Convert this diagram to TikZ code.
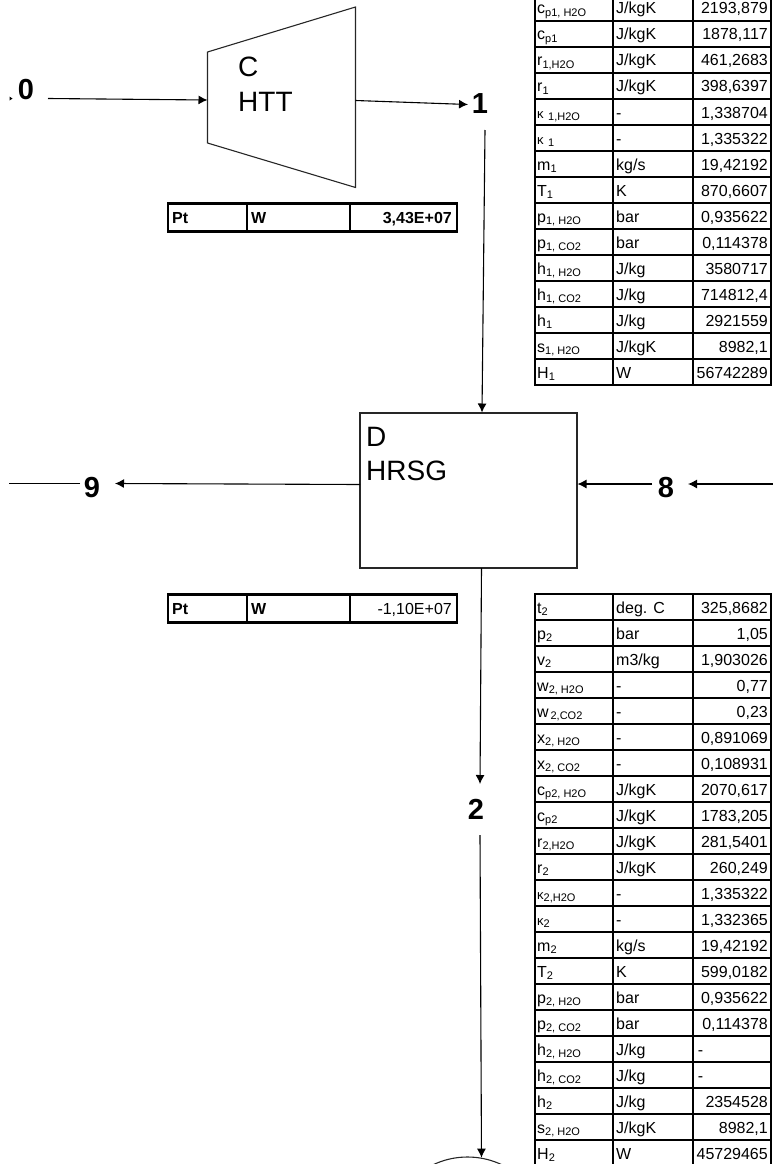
\documentclass[tikz,border=0pt]{standalone}
\usepackage{fontspec}
\setmainfont{Liberation Sans}
\usetikzlibrary{arrows.meta}

\newcommand{\subs}[1]{\textsubscript{\fontsize{11}{11}\selectfont #1}}
\newcommand{\kap}{{\fontsize{13}{13}\selectfont κ}}

\tikzset{
  >={Latex[length=9pt,width=9pt]},
  part/.style={draw=black!85, line width=1.1pt},
  flow/.style={->, line width=1.1pt},
  wire/.style={line width=1.1pt},
  partname/.style={anchor=base west, inner sep=0pt, font=\fontsize{28}{28}\selectfont},
  statenum/.style={inner sep=0pt, minimum width=24pt, minimum height=52pt, font=\fontsize{29}{29}\selectfont\bfseries},
  cellname/.style={anchor=base west, inner sep=0pt, font=\fontsize{16}{16}\selectfont},
  cellunit/.style={anchor=base west, inner sep=0pt, font=\fontsize{16}{16}\selectfont},
  cellval/.style={anchor=base east, inner sep=0pt, font=\fontsize{16}{16}\selectfont},
  gridline/.style={line width=1.5pt},
  gridframe/.style={line width=2.2pt},
  powerframe/.style={line width=2.8pt},
}

% name, y of first row top, number of rows, rows
\newcommand{\statetable}[4]{
  \foreach \sym/\unit/\val [count=\i] in {#4} {
    \pgfmathsetmacro{\rowbase}{#2+26*\i-7}
    \node[cellname] (#1n\i) at (537,\rowbase) {\sym};
    \node[cellunit] (#1u\i) at (616,\rowbase) {\unit};
    \node[cellval] (#1v\i) at (768,\rowbase) {\val};
    \pgfmathsetmacro{\rowline}{#2+26*\i}
    \draw[gridline] (535,\rowline) -- (771,\rowline);
  }
  \draw[gridline] (613,#2) -- (613,#2+26*#3);
  \draw[gridline] (693,#2) -- (693,#2+26*#3);
  \draw[gridframe] (535,#2) rectangle (771,#2+26*#3);
}

% name, y of top, value
\newcommand{\powertable}[3]{
  \node[cellname, font=\fontsize{16}{16}\selectfont\bfseries] (#1n) at (172,#2+20) {Pt};
  \node[cellunit, font=\fontsize{16}{16}\selectfont\bfseries] (#1u) at (251,#2+20) {W};
  \node[cellval] (#1v) at (452,#2+20) {#3};
  \draw[line width=1.5pt] (247,#2) -- (247,#2+28) (350,#2) -- (350,#2+28);
  \draw[powerframe] (168,#2) rectangle (457,#2+28);
}

\begin{document}
\begin{tikzpicture}[x=1pt,y=-1pt]
\useasboundingbox (0,0) rectangle (773,1164);
\clip (0,0) rectangle (773,1164);

% Define corners of the turbine
\coordinate (t1) at (207.5,52);
\coordinate (t2) at (355.5,7);
\coordinate (t3) at (355.5,187.5);
\coordinate (t4) at (207.5,143);

% Draw turbine
\draw[part] (t1) -- (t2) -- (t3) -- (t4) -- cycle;
\node[partname] (cname) at (238,76) {C};
\node[partname] (httname) at (238,111) {HTT};

% Draw heat recovery boiler
\node[part, inner sep=0pt, minimum width=217pt, minimum height=155pt] (hrsg) at (468.5,490.5) {};
\node[partname] (dname) at (366,446) {D};
\node[partname] (hrsgname) at (366,480) {HRSG};

% Next component, cut by the page
\node[part, circle, inner sep=0pt, minimum size=160pt] (next) at (467.5,1237) {};

% State numbers
\node[statenum] (n0) at (26,90) {0};
\node[statenum] (n1) at (480,104) {1};
\node[statenum] (n2) at (476,809) {2};
\node[statenum] (n8) at (666,488) {8};
\node[statenum] (n9) at (92,488) {9};

% Free ends
\coordinate (t-in) at (207.5,100);
\coordinate (t-out) at (355.5,100.5);
\coordinate (n0-out) at (48,98.5);
\coordinate (n1-in) at (468,104.5);
\coordinate (n1-out) at (485,130);
\coordinate (h-top) at (482,412.5);
\coordinate (h-bot) at (481.5,568);
\coordinate (n2-in) at (480,784);
\coordinate (n2-out) at (480,835);
\coordinate (h-left) at (360,484.5);
\coordinate (n9-in) at (115,483.5);
\coordinate (n9-out) at (80,483.5);
\coordinate (left-end) at (9,483.5);
\coordinate (h-right) at (577.5,484);
\coordinate (n8-out) at (652,484);
\coordinate (n8-in) at (688,484);
\coordinate (right-end) at (773,484);

% Draw flows
\draw[flow] (n0-out) -- (t-in);
\draw[flow] (t-out) -- (n1-in);
\draw[flow] (n1-out) -- (h-top);
\draw[flow] (h-bot) -- (n2-in);
\draw[flow] (n2-out) -- (next.80);
\draw[flow] (h-left) -- (n9-in);
\draw[wire] (n9-out) -- (left-end);
\draw[flow] (n8-out) -- (h-right);
\draw[flow] (right-end) -- (n8-in);

% Small mark left of state 0
\fill (9.5,96.5) -- (12.5,98.5) -- (9.5,100.5) -- cycle;

% Power tables
\powertable{pa}{203.5}{\textbf{3,43E+07}}
\powertable{pb}{594.5}{-1,10E+07}

% State 1 table
\statetable{a}{-5}{15}{
  {c\subs{p1, H2O}}/{J/kgK}/{2193,879},
  {c\subs{p1}}/{J/kgK}/{1878,117},
  {r\subs{1,H2O}}/{J/kgK}/{461,2683},
  {r\subs{1}}/{J/kgK}/{398,6397},
  {\kap\ \subs{1,H2O}}/{-}/{1,338704},
  {\kap\ \subs{1}}/{-}/{1,335322},
  {m\subs{1}}/{kg/s}/{19,42192},
  {T\subs{1}}/{K}/{870,6607},
  {p\subs{1, H2O}}/{bar}/{0,935622},
  {p\subs{1, CO2}}/{bar}/{0,114378},
  {h\subs{1, H2O}}/{J/kg}/{3580717},
  {h\subs{1, CO2}}/{J/kg}/{714812,4},
  {h\subs{1}}/{J/kg}/{2921559},
  {s\subs{1, H2O}}/{J/kgK}/{8982,1},
  {H\subs{1}}/{W}/{56742289}}

% State 2 table
\statetable{b}{594}{22}{
  {t\subs{2}}/{deg. C}/{325,8682},
  {p\subs{2}}/{bar}/{1,05},
  {v\subs{2}}/{m3/kg}/{1,903026},
  {w\subs{2, H2O}}/{-}/{0,77},
  {w\subs{\,2,CO2}}/{-}/{0,23},
  {x\subs{2, H2O}}/{-}/{0,891069},
  {x\subs{2, CO2}}/{-}/{0,108931},
  {c\subs{p2, H2O}}/{J/kgK}/{2070,617},
  {c\subs{p2}}/{J/kgK}/{1783,205},
  {r\subs{2,H2O}}/{J/kgK}/{281,5401},
  {r\subs{2}}/{J/kgK}/{260,249},
  {\kap\subs{2,H2O}}/{-}/{1,335322},
  {\kap\subs{2}}/{-}/{1,332365},
  {m\subs{2}}/{kg/s}/{19,42192},
  {T\subs{2}}/{K}/{599,0182},
  {p\subs{2, H2O}}/{bar}/{0,935622},
  {p\subs{2, CO2}}/{bar}/{0,114378},
  {h\subs{2, H2O}}/{J/kg}/{\makebox[70pt][l]{-}},
  {h\subs{2, CO2}}/{J/kg}/{\makebox[70pt][l]{-}},
  {h\subs{2}}/{J/kg}/{2354528},
  {s\subs{2, H2O}}/{J/kgK}/{8982,1},
  {H\subs{2}}/{W}/{45729465}}

\end{tikzpicture}
\end{document}
